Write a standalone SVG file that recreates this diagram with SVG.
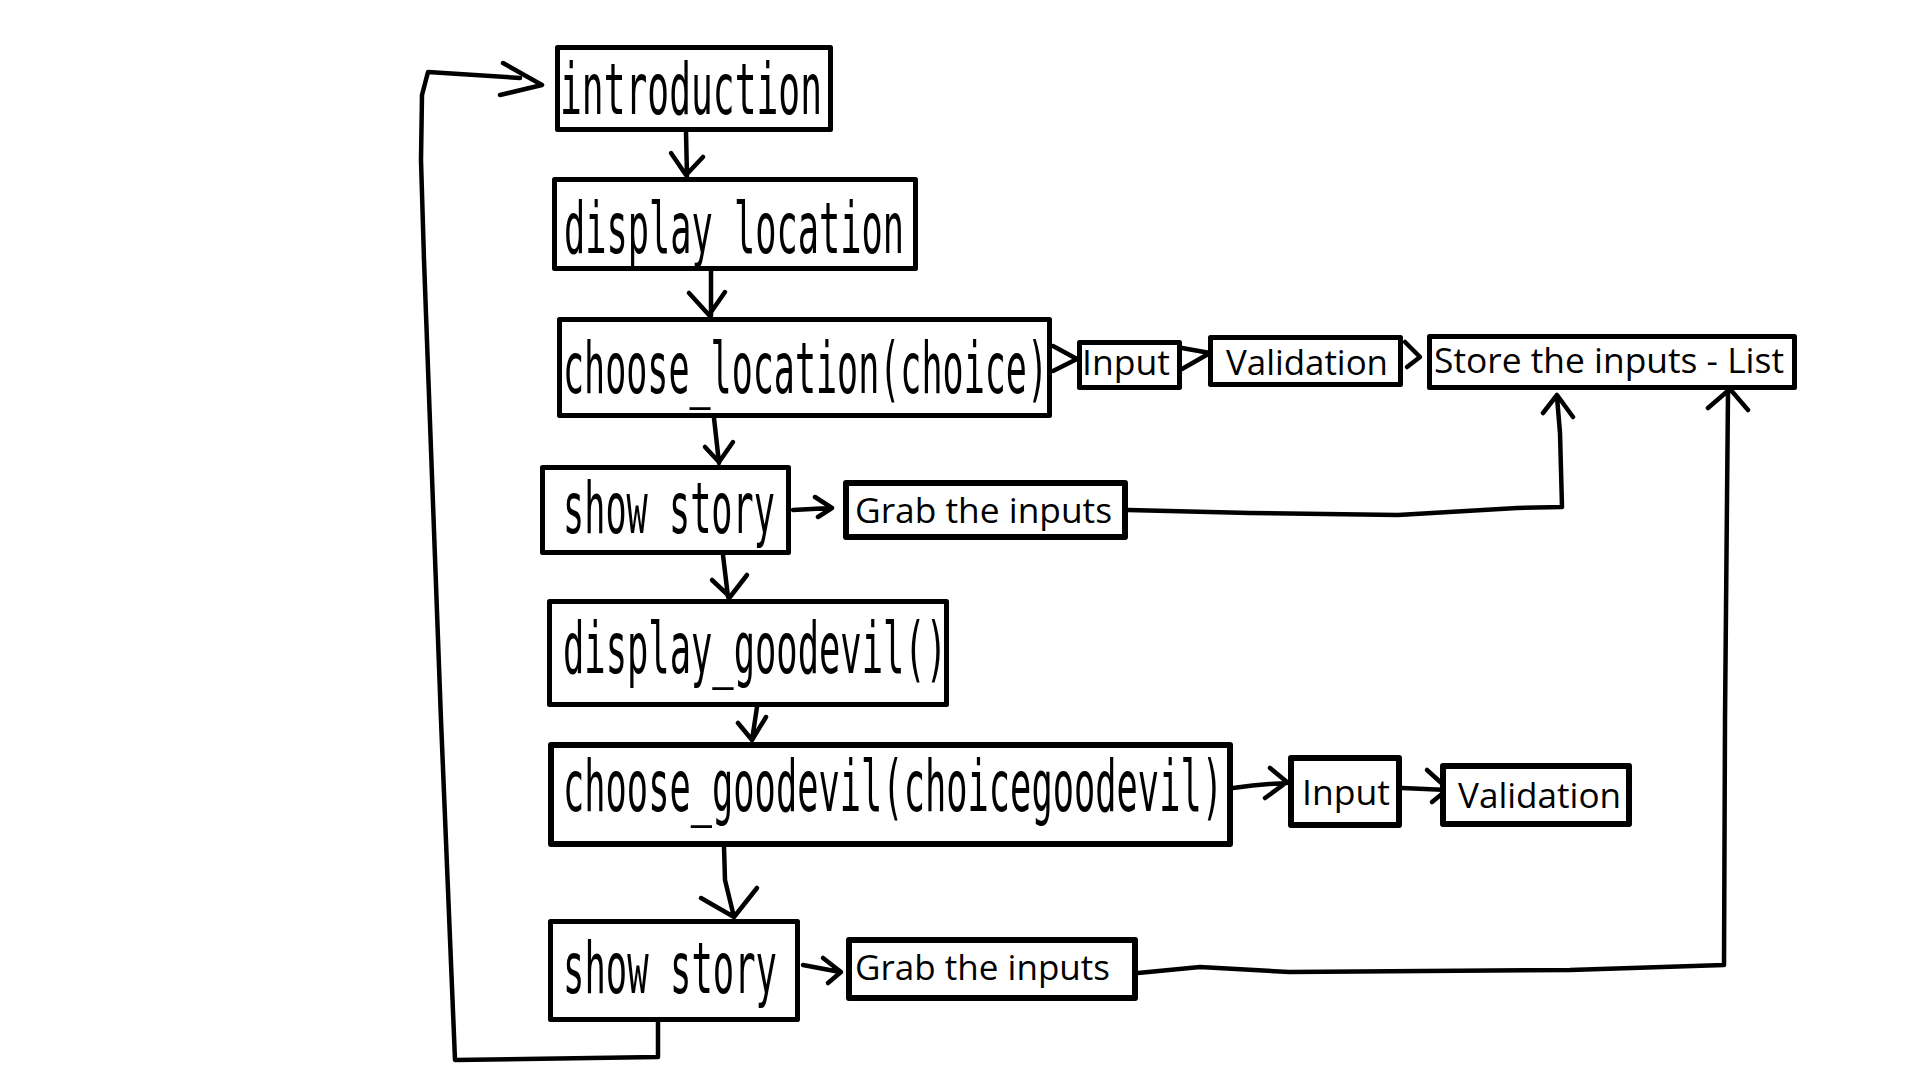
<svg xmlns="http://www.w3.org/2000/svg" width="1920" height="1080" viewBox="0 0 1920 1080">
<style>
.box{fill:#fff;stroke:#000;stroke-width:5;stroke-linejoin:round}
.sbox{fill:#fff;stroke:#000;stroke-width:6;stroke-linejoin:round}
.big{font-family:"DejaVu Sans Mono","Liberation Mono",monospace;font-size:72px;fill:#000}
.sm{font-family:"Open Sans","Noto Sans","Liberation Sans",sans-serif;font-size:34px;fill:#000}
.ln{fill:none;stroke:#000;stroke-width:4.5;stroke-linecap:round;stroke-linejoin:round}
</style>
<rect width="1920" height="1080" fill="#fff"/>
<g id="connectors">
<path class="ln" d="M686,132 L687,176 M671,153 L686,175 L703,157"/>
<path class="ln" d="M711,271 L711,316 M689,293 L709,315 L725,292"/>
<path class="ln" d="M714,418 L719,463 M705,447 L719,462 L733,442"/>
<path class="ln" d="M723,555 L728,597 M712,580 L730,597 L747,575"/>
<path class="ln" d="M757,707 L752,740 M738,723 L752,740 L766,717"/>
<path class="ln" d="M724,847 L725,880 L734,917 M701,898 L734,917 L757,888"/>
<path class="ln" d="M793,510 L830,508 M815,497 L832,508 L818,517"/>
<path class="ln" d="M803,965 L840,972 M823,958 L841,972 L828,983"/>
<path class="ln" d="M1053,346 L1077,359 L1053,371"/>
<path class="ln" d="M1182,348 L1210,353 L1182,369"/>
<path class="ln" d="M1405,342 L1420,357 L1407,367"/>
<path class="ln" d="M1128,510 L1250,513 L1398,515 L1517,508 L1562,507 L1560,433 L1557,397 M1543,413 L1557,395 L1573,417"/>
<path class="ln" d="M1138,973 L1200,967 L1289,972 L1570,970 L1724,965 L1725,720 L1727,500 L1728,392 M1708,408 L1730,389 L1748,410"/>
<path class="ln" d="M1233,788 Q1260,784 1287,783 M1270,768 L1287,782 L1265,798"/>
<path class="ln" d="M1402,788 L1448,790 M1427,770 L1448,789 L1432,802"/>
<path class="ln" d="M658,1022 L658,1057 L455,1060 L441,720 L424,260 L421,160 L422,95 L428,72 L520,78 M503,63 L542,85 L500,95"/>
</g>
<g id="n-introduction"><rect class="box" x="557.5" y="47.5" width="273" height="82"/><text class="big" transform="translate(560,114) scale(0.5037,1)">introduction</text></g>
<g id="n-display-location"><rect class="box" x="554.5" y="179.5" width="361" height="89"/><text class="big" transform="translate(564,253) scale(0.4903,1)">display_location</text></g>
<g id="n-choose-location"><rect class="box" x="559.5" y="319.5" width="490" height="96"/><text class="big" transform="translate(563,393) scale(0.4865,1)">choose_location(choice)</text></g>
<g id="n-show-story-1"><rect class="box" x="542.5" y="467.5" width="246" height="85"/><text class="big" transform="translate(563,533) scale(0.4891,1)">show story</text></g>
<g id="n-display-goodevil"><rect class="box" x="549.5" y="601.5" width="397" height="103"/><text class="big" transform="translate(563,673) scale(0.4922,1)">display_goodevil()</text></g>
<g id="n-choose-goodevil"><rect class="sbox" x="551" y="745" width="679" height="99"/><text class="big" transform="translate(563,811) scale(0.4912,1)">choose_goodevil(choicegoodevil)</text></g>
<g id="n-show-story-2"><rect class="box" x="550.5" y="921.5" width="247" height="98"/><text class="big" transform="translate(563,993) scale(0.4938,1)">show story</text></g>
<g id="n-input-1"><rect class="box" x="1079.5" y="342.5" width="100" height="45"/><text class="sm" x="1082" y="375" textLength="88" lengthAdjust="spacingAndGlyphs">Input</text></g>
<g id="n-validation-1"><rect class="box" x="1210.5" y="337.5" width="190" height="47"/><text class="sm" x="1226" y="375" textLength="162" lengthAdjust="spacingAndGlyphs">Validation</text></g>
<g id="n-store"><rect class="box" x="1429.5" y="336.5" width="365" height="51"/><text class="sm" x="1434" y="373" textLength="350" lengthAdjust="spacingAndGlyphs">Store the inputs - List</text></g>
<g id="n-grab-1"><rect class="sbox" x="846" y="483" width="279" height="54"/><text class="sm" x="855" y="523" textLength="257" lengthAdjust="spacingAndGlyphs">Grab the inputs</text></g>
<g id="n-input-2"><rect class="sbox" x="1291" y="758" width="108" height="67"/><text class="sm" x="1302" y="805" textLength="88" lengthAdjust="spacingAndGlyphs">Input</text></g>
<g id="n-validation-2"><rect class="sbox" x="1443" y="766" width="186" height="58"/><text class="sm" x="1458" y="808" textLength="163" lengthAdjust="spacingAndGlyphs">Validation</text></g>
<g id="n-grab-2"><rect class="sbox" x="849" y="940" width="286" height="58"/><text class="sm" x="855" y="980" textLength="255" lengthAdjust="spacingAndGlyphs">Grab the inputs</text></g>
</svg>
